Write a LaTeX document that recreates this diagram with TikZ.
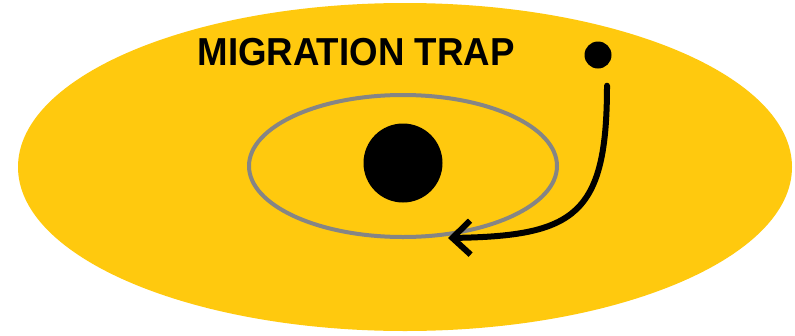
\documentclass[tikz,border=0pt]{standalone}
\usepackage{fontspec}
\setmainfont{Liberation Sans}
\usetikzlibrary{arrows.meta,shapes.geometric}
\definecolor{Gold}{HTML}{FFC90E}
\definecolor{OrbitGray}{HTML}{858585}

\begin{document}
\begin{tikzpicture}[x=1pt,y=-1pt,
    blob/.style={circle,fill=black,inner sep=0pt}]
    \useasboundingbox (0,0) rectangle (795,335);
    \node[ellipse,fill=Gold,minimum width=774pt,minimum height=328pt,inner sep=0pt]
      (disk) at (405,167) {};
    \node[ellipse,draw=OrbitGray,line width=4pt,minimum width=308pt,
          minimum height=142pt,inner sep=0pt] (orbit) at (403,166) {};
    \node[blob,minimum size=79pt] (star) at (403,163) {};
    \node[blob,minimum size=27pt] (planet) at (598,55) {};
    \node[font=\fontsize{39}{41}\selectfont\bfseries,xscale=0.94,inner sep=0pt]
      (title) at (356,52) {MIGRATION TRAP};
    \coordinate (trap) at (448,238);
    \draw[-{Straight Barb[length=18pt,width=34pt]},line width=6pt,line cap=round]
      ([xshift=9pt,yshift=-17pt]planet.south) .. controls (607,215) and (575,236) .. (trap);
  \end{tikzpicture}
\end{document}
